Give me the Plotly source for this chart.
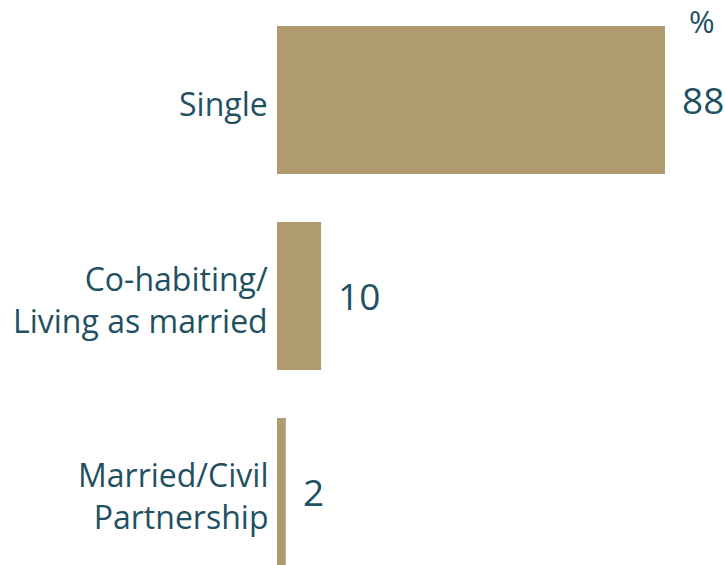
import plotly.graph_objects as go

categories = ["Single", "Co-habiting/<br>Living as married", "Married/Civil<br>Partnership"]
values = [88, 10, 2]
positions = [0, 1, 2]
unit_label = "%"

BAR = "#B09B6E"
TXT = "#1F5162"
FONT = "Open Sans"

fig = go.Figure()
fig.add_trace(go.Bar(
    x=values, y=positions, orientation="h",
    marker=dict(color=BAR, line=dict(width=0)),
    width=0.755, hoverinfo="skip",
))

for v, p in zip(values, positions):
    fig.add_annotation(x=v, y=p, xref="x", yref="y", text=str(v),
                       showarrow=False, xanchor="left", yanchor="middle",
                       xshift=15, font=dict(family=FONT, size=37, color=TXT))

for c, p in zip(categories, positions):
    fig.add_annotation(x=0, y=p, xref="x", yref="y", text=c,
                       showarrow=False, xanchor="right", yanchor="middle",
                       align="right", xshift=-7, yshift=-4,
                       font=dict(family=FONT, size=32, color=TXT))

fig.add_annotation(x=values[0], y=1, xref="x", yref="paper", text=unit_label,
                   showarrow=False, xanchor="left", yanchor="top",
                   xshift=22, yshift=2, font=dict(family=FONT, size=31, color=TXT))

fig.update_layout(
    width=725, height=565,
    margin=dict(l=277, r=0, t=0, b=0),
    paper_bgcolor="white", plot_bgcolor="white",
    showlegend=False,
    font=dict(family=FONT, color=TXT),
)
fig.update_xaxes(range=[0, 101.6], visible=False, fixedrange=True)
fig.update_yaxes(range=[2.373, -0.51], tickvals=positions, showticklabels=False,
                 showgrid=False, zeroline=False, showline=False, ticks="",
                 automargin=False, fixedrange=True)

fig.write_html("out.html", config={"displayModeBar": False},
               post_script="document.body.style.margin='0';document.body.style.overflow='hidden';")
